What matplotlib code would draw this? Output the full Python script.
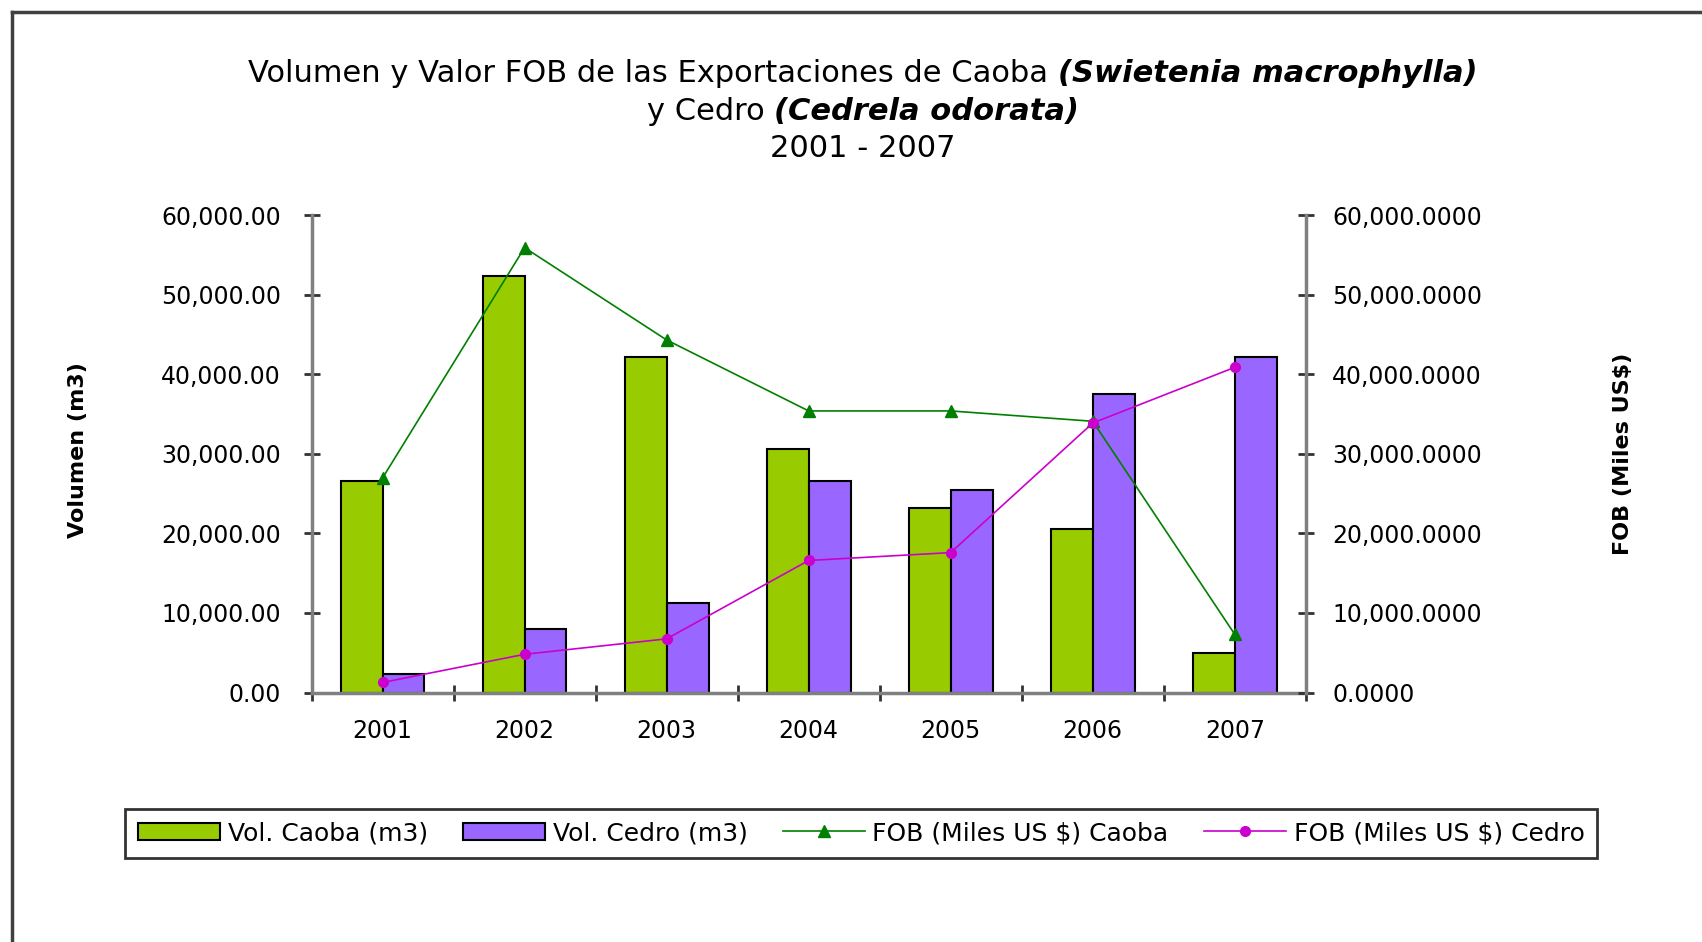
import matplotlib
matplotlib.use('Agg')
import matplotlib.pyplot as plt
from matplotlib.offsetbox import TextArea, HPacker, AnnotationBbox
from matplotlib.lines import Line2D
from matplotlib.ticker import FuncFormatter
import numpy as np

# datos
years = ['2001', '2002', '2003', '2004', '2005', '2006', '2007']
vol_caoba = [26600, 52300, 42150, 30580, 23200, 20560, 4920]
vol_cedro = [2330, 7950, 11300, 26600, 25400, 37540, 42150]
fob_caoba = [26950, 55900, 44300, 35380, 35380, 34080, 7300]   # miles US$
fob_cedro = [1260, 4800, 6740, 16590, 17580, 33860, 40860]

labels = ['Vol. Caoba (m3)', 'Vol. Cedro (m3)',
          'FOB (Miles US $) Caoba', 'FOB (Miles US $) Cedro']

plt.rcParams['font.family'] = ['DejaVu Sans']
fs = 17

W, H = 1702, 942
fig = plt.figure(figsize=(W / 100, H / 100), dpi=100)
ax = fig.add_axes([311.5 / W, 1 - 692.5 / H, (1305.8 - 311.5) / W, (692.5 - 215) / H])
ax2 = ax.twinx()

x = np.arange(len(years))
w = 0.295
b1 = ax.bar(x - w / 2, vol_caoba, w, color='#99CC00', edgecolor='black', linewidth=1.5, label=labels[0])
b2 = ax.bar(x + w / 2, vol_cedro, w, color='#9966FF', edgecolor='black', linewidth=1.5, label=labels[1])
l1, = ax2.plot(x, fob_caoba, color='#008000', lw=1.2, marker='^', ms=9, label=labels[2])
l2, = ax2.plot(x, fob_cedro, color='#CC00CC', lw=1.2, marker='o', ms=7, label=labels[3])

ax.set_xlim(-0.5, 6.5)
ax.set_ylim(0, 60000)
ax2.set_ylim(0, 60000)
ax.set_yticks(np.arange(0, 60001, 10000))
ax2.set_yticks(np.arange(0, 60001, 10000))
ax.yaxis.set_major_formatter(FuncFormatter(lambda v, p: '{:,.2f}'.format(v)))
ax2.yaxis.set_major_formatter(FuncFormatter(lambda v, p: '{:,.4f}'.format(v)))

ax.set_xticks(x)
ax.set_xticklabels(years)
ax.set_xticks(np.arange(-0.5, 7, 1), minor=True)
ax.tick_params(axis='x', which='major', length=0, pad=19, labelsize=fs)
ax.tick_params(axis='x', which='minor', direction='inout', length=12, width=2, color='#333333')
ax.tick_params(axis='y', direction='inout', length=12, width=2, color='#333333', pad=16, labelsize=fs)
ax2.tick_params(axis='y', direction='inout', length=12, width=2, color='#333333', pad=13, labelsize=fs)

for a in (ax, ax2):
    a.spines['top'].set_visible(False)
ax.spines['right'].set_visible(False)
ax2.spines['left'].set_visible(False)
ax2.spines['bottom'].set_visible(False)
for s in (ax.spines['left'], ax.spines['bottom'], ax2.spines['right']):
    s.set_color('#808080')
    s.set_linewidth(2.5)

fig.text(78 / W, 1 - 450 / H, 'Volumen (m3)', rotation=90, ha='center', va='center',
         fontsize=16, fontweight='bold')
fig.text(1623 / W, 1 - 454 / H, 'FOB (Miles US$)', rotation=90, ha='center', va='center',
         fontsize=16, fontweight='bold')

# titulo con partes en cursiva
tfs = 22
normal = dict(fontsize=tfs, color='black')
ital = dict(fontsize=tfs, color='black', style='italic', fontweight='bold')
title_lines = [
    [('Volumen y Valor FOB de las Exportaciones de Caoba ', normal), ('(Swietenia macrophylla)', ital)],
    [('y Cedro ', normal), ('(Cedrela odorata)', ital)],
    [('2001 - 2007', normal)],
]
title_y = [73.8, 111.8, 148.7]
for parts, yy in zip(title_lines, title_y):
    box = HPacker(children=[TextArea(t, textprops=p) for t, p in parts], pad=0, sep=0, align='baseline')
    ab = AnnotationBbox(box, (863 / W, 1 - yy / H), xycoords='figure fraction',
                        box_alignment=(0.5, 0.5), frameon=False)
    fig.add_artist(ab)

leg = fig.legend([b1, b2, l1, l2], labels, loc='center', bbox_to_anchor=(861 / W, 1 - 833 / H),
                 ncol=4, fontsize=18, frameon=True, fancybox=False, edgecolor='black',
                 handlelength=3.3, columnspacing=1.4, handletextpad=0.3, borderpad=0.5)
leg.get_frame().set_linewidth(2)

# marco exterior
fig.add_artist(Line2D([12 / W, 1], [1 - 12 / H, 1 - 12 / H], color='#404040', lw=2.5))
fig.add_artist(Line2D([12 / W, 12 / W], [1 - 12 / H, 0], color='#404040', lw=2.5))

fig.savefig('out.png', dpi=100)
